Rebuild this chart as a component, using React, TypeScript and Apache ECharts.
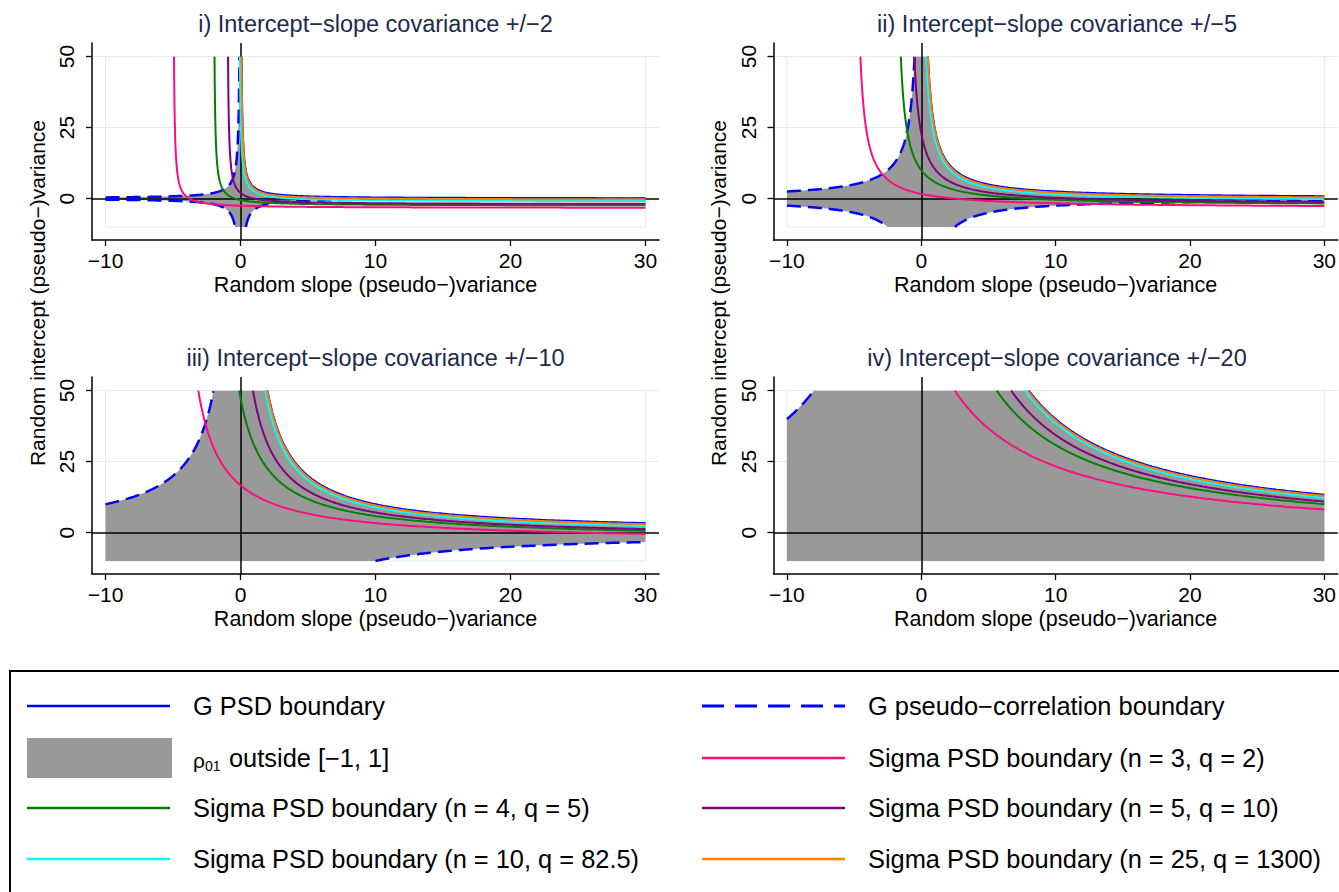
import React, { useEffect, useRef } from "react";
import * as echarts from "echarts";

// Intercept-slope covariance of G for each panel
const covariances = [2, 5, 10, 20];
const panelTitles = [
  "i) Intercept\u2212slope covariance +/\u22122",
  "ii) Intercept\u2212slope covariance +/\u22125",
  "iii) Intercept\u2212slope covariance +/\u221210",
  "iv) Intercept\u2212slope covariance +/\u221220",
];
// Study designs: n time points, q = sum of squared centred times
const designN = [3, 4, 5, 10, 25];
const designQ = [2, 5, 10, 82.5, 1300];
const designColors = ["#ff0a80", "#008000", "#800080", "#00ffff", "#ff8000"];
const residualVariance = 10;

const xTicks = [-10, 0, 10, 20, 30];
const yTicks = [0, 25, 50];
const xDomain = [-10, 30];
const yDomain = [-10, 50];

const FONT = '"Liberation Sans", Arial, Helvetica, sans-serif';
const BLUE = "#0000ff";
const SHADE = "#999999";
const GRID = "#e3ebee";
const TITLE_COLOR = "#1c2a4e";

const signed = (v: number) => (v < 0 ? "\u2212" + Math.abs(v) : String(v));

// x positions on [a, b], packed towards the steep end of a hyperbola
function clustered(a: number, b: number, steepAtStart: boolean, count = 300): number[] {
  const xs: number[] = [];
  for (let k = 0; k <= count; k++) {
    const s = Math.pow(k / count, 3);
    xs.push(steepAtStart ? a + (b - a) * s : b - (b - a) * s);
  }
  return xs.sort((u, v) => u - v);
}

function curve(f: (x: number) => number, a: number, b: number, steepAtStart: boolean) {
  return clustered(a, b, steepAtStart).map((x) => [x, f(x)]);
}

const gridLefts = [92, 773.5];
const gridTops = [43, 377];
const GRID_W = 567;
const GRID_H = 197;

export default function App() {
  const ref = useRef<HTMLDivElement>(null);

  useEffect(() => {
    if (!ref.current) return;
    const chart = echarts.init(ref.current, null, { renderer: "svg" });
    const [xLo, xHi] = xDomain;
    const [yLo, yHi] = yDomain;
    const s2 = residualVariance;

    const grids: any[] = [];
    const xAxes: any[] = [];
    const yAxes: any[] = [];
    const series: any[] = [];
    const graphics: any[] = [];

    covariances.forEach((c, idx) => {
      const col = idx % 2;
      const row = Math.floor(idx / 2);
      const left = gridLefts[col];
      const top = gridTops[row];
      grids.push({ left, top, width: GRID_W, height: GRID_H, containLabel: false });

      xAxes.push({
        gridIndex: idx,
        type: "value",
        min: -11,
        max: 31,
        axisLine: { show: true, onZero: false, lineStyle: { color: "#000", width: 1.5 } },
        axisTick: { show: true, customValues: xTicks, length: 6, lineStyle: { color: "#000", width: 1.3 } },
        axisLabel: {
          customValues: xTicks,
          formatter: (v: number) => signed(v),
          fontSize: 21,
          fontFamily: FONT,
          color: "#000",
          margin: 10,
        },
        splitLine: { show: false },
        name: "Random slope (pseudo\u2212)variance",
        nameLocation: "middle",
        nameGap: 34,
        nameTextStyle: { fontSize: 21.5, fontFamily: FONT, color: "#000" },
      });
      yAxes.push({
        gridIndex: idx,
        type: "value",
        min: -14.6,
        max: 54.8,
        axisLine: { show: true, onZero: false, lineStyle: { color: "#000", width: 1.5 } },
        axisTick: { show: true, customValues: yTicks, length: 6, lineStyle: { color: "#000", width: 1.3 } },
        axisLabel: {
          customValues: yTicks,
          formatter: (v: number) => signed(v),
          rotate: 90,
          fontSize: 21,
          fontFamily: FONT,
          color: "#000",
          margin: 15,
        },
        splitLine: { show: false },
      });

      const c2 = c * c;

      // faint grid lines and plot-region outline, beneath everything
      series.push({
        type: "line",
        xAxisIndex: idx,
        yAxisIndex: idx,
        data: [],
        z: 0,
        silent: true,
        markLine: {
          z: 0,
          silent: true,
          symbol: ["none", "none"],
          label: { show: false },
          lineStyle: { color: GRID, width: 1, type: "solid" },
          data: yTicks.filter((v) => v !== 0).map((v) => ({ yAxis: v })),
        },
        markArea: {
          z: 0,
          silent: true,
          itemStyle: { color: "rgba(0,0,0,0)", borderColor: GRID, borderWidth: 1 },
          data: [[{ coord: [xLo, yLo] }, { coord: [xHi, yHi] }]],
        },
      });

      // shaded region where |rho01| > 1, i.e. |x*y| < c^2
      const kinks = [c2 / yHi, -c2 / yHi, c2 / -yLo, -c2 / -yLo];
      const xsRaw = [...clustered(xLo, 0, false), ...clustered(0, xHi, true), ...kinks]
        .filter((x) => x >= xLo && x <= xHi)
        .sort((u, v) => u - v);
      const xs = xsRaw.filter((x, k) => k === 0 || x !== xsRaw[k - 1]);
      const upper = (x: number) => (x === 0 ? yHi : Math.min(yHi, c2 / Math.abs(x)));
      const lower = (x: number) => (x === 0 ? yLo : Math.max(yLo, -c2 / Math.abs(x)));
      const shade = xs
        .map((x) => [x, upper(x)])
        .concat(xs.slice().reverse().map((x) => [x, lower(x)]));
      series.push({
        type: "custom",
        xAxisIndex: idx,
        yAxisIndex: idx,
        data: shade,
        z: 2,
        silent: true,
        renderItem: (params: any, api: any) => {
          if (params.dataIndex !== 0) return null;
          return {
            type: "polygon",
            shape: { points: shade.map((p) => api.coord(p)) },
            style: { fill: SHADE },
          };
        },
      });

      // zero reference lines
      series.push({
        type: "line",
        xAxisIndex: idx,
        yAxisIndex: idx,
        data: [],
        z: 3,
        silent: true,
        markLine: {
          z: 3,
          silent: true,
          symbol: ["none", "none"],
          label: { show: false },
          lineStyle: { color: "#000", width: 1.5, type: "solid" },
          data: [{ xAxis: 0 }, { yAxis: 0 }],
        },
      });

      const line = (data: number[][], color: string, width: number, dashed = false) => ({
        type: "line",
        xAxisIndex: idx,
        yAxisIndex: idx,
        data,
        showSymbol: false,
        symbol: "none",
        smooth: false,
        silent: true,
        z: 6,
        lineStyle: { color, width, type: dashed ? [14, 7] : "solid" },
      });

      // G pseudo-correlation boundary (dashed)
      const ulEnd = -c2 / yHi;
      if (ulEnd > xLo) series.push(line(curve((x) => c2 / -x, xLo, ulEnd, false), BLUE, 2.5, true));
      const llEnd = -c2 / -yLo;
      if (llEnd > xLo) series.push(line(curve((x) => c2 / x, xLo, llEnd, false), BLUE, 2.5, true));
      const lrStart = c2 / -yLo;
      if (lrStart < xHi) series.push(line(curve((x) => -c2 / x, lrStart, xHi, true), BLUE, 2.5, true));

      // G PSD boundary
      series.push(line(curve((x) => c2 / x, c2 / yHi, xHi, true), BLUE, 2));

      // Sigma PSD boundaries
      designN.forEach((n, j) => {
        const q = designQ[j];
        const f = (x: number) => (c2 * q) / (x * q + s2) - s2 / n;
        const x0 = ((c2 * q) / (yHi + s2 / n) - s2) / q;
        series.push(line(curve(f, x0, xHi, true), designColors[j], 2));
      });

      graphics.push({
        type: "text",
        x: left + GRID_W / 2,
        y: top - 19,
        style: {
          text: panelTitles[idx],
          font: `23.5px ${FONT}`,
          fill: TITLE_COLOR,
          align: "center",
          verticalAlign: "middle",
        },
      });
    });

    // column y titles
    [37, 718].forEach((x) => {
      graphics.push({
        type: "text",
        x,
        y: 293,
        rotation: Math.PI / 2,
        style: {
          text: "Random intercept (pseudo\u2212)variance",
          font: `21px ${FONT}`,
          fill: "#000",
          align: "center",
          verticalAlign: "middle",
        },
      });
    });

    // legend
    const rowY = [706, 758, 808, 859];
    const legendFont = `25.4px ${FONT}`;
    graphics.push({
      type: "rect",
      shape: { x: 10, y: 671, width: 1345, height: 240 },
      style: { fill: "rgba(0,0,0,0)", stroke: "#000", lineWidth: 2 },
    });
    const legendLine = (x: number, y: number, color: string, dashed = false) => ({
      type: "line",
      shape: { x1: x, y1: y, x2: x + 143, y2: y },
      style: { stroke: color, lineWidth: dashed ? 3 : 2.5, lineDash: dashed ? [22, 11] : null },
    });
    const legendText = (x: number, y: number, text: string) => ({
      type: "text",
      x,
      y,
      style: { text, font: legendFont, fill: "#000", align: "left", verticalAlign: "middle" },
    });
    const sigmaLabel = (j: number) => `Sigma PSD boundary (n = ${designN[j]}, q = ${designQ[j]})`;

    graphics.push(legendLine(27, rowY[0], BLUE));
    graphics.push(legendText(193, rowY[0], "G PSD boundary"));
    graphics.push({
      type: "rect",
      shape: { x: 27, y: rowY[1] - 20, width: 145, height: 40 },
      style: { fill: SHADE },
    });
    graphics.push({
      type: "text",
      x: 193,
      y: rowY[1] + 2,
      style: { text: "\u03c1", font: `21px ${FONT}`, fill: "#000", align: "left", verticalAlign: "middle" },
    });
    graphics.push({
      type: "text",
      x: 205,
      y: rowY[1] + 8,
      style: { text: "01", font: `14px ${FONT}`, fill: "#000", align: "left", verticalAlign: "middle" },
    });
    graphics.push(legendText(229, rowY[1], "outside [\u22121, 1]"));
    graphics.push(legendLine(27, rowY[2], designColors[1]));
    graphics.push(legendText(193, rowY[2], sigmaLabel(1)));
    graphics.push(legendLine(27, rowY[3], designColors[3]));
    graphics.push(legendText(193, rowY[3], sigmaLabel(3)));

    graphics.push(legendLine(702, rowY[0], BLUE, true));
    graphics.push(legendText(868, rowY[0], "G pseudo\u2212correlation boundary"));
    graphics.push(legendLine(702, rowY[1], designColors[0]));
    graphics.push(legendText(868, rowY[1], sigmaLabel(0)));
    graphics.push(legendLine(702, rowY[2], designColors[2]));
    graphics.push(legendText(868, rowY[2], sigmaLabel(2)));
    graphics.push(legendLine(702, rowY[3], designColors[4]));
    graphics.push(legendText(868, rowY[3], sigmaLabel(4)));

    chart.setOption({
      animation: false,
      backgroundColor: "#fff",
      textStyle: { fontFamily: FONT },
      grid: grids,
      xAxis: xAxes,
      yAxis: yAxes,
      series,
      graphic: graphics,
    });

    return () => chart.dispose();
  }, []);

  return (
    <div
      ref={ref}
      style={{ position: "fixed", left: 0, top: 0, width: 1339, height: 892, background: "#fff" }}
    />
  );
}
